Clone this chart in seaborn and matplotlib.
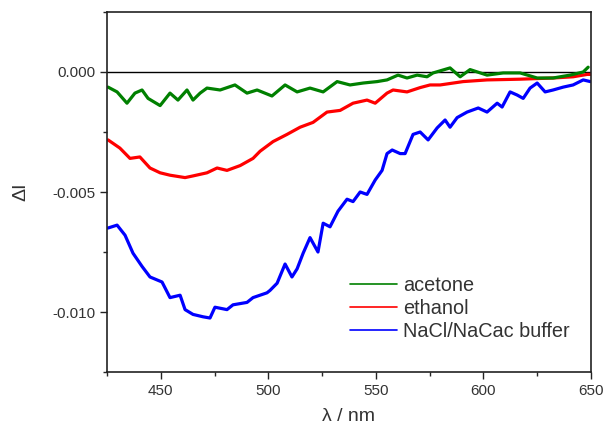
import numpy as np
import pandas as pd
import matplotlib
matplotlib.use("Agg")
import matplotlib.pyplot as plt
import seaborn as sns
from matplotlib.ticker import MultipleLocator

# values
buffer_nm = [425.5, 429.7, 433.4, 437.1, 441.3, 445.0, 450.6, 454.3, 459.0, 461.3,
             465.0, 469.7, 472.9, 475.2, 480.8, 483.6, 490.1, 492.9, 499.4, 500.8,
             504.1, 507.8, 511.0, 513.4, 516.2, 519.4, 523.1, 525.5, 528.7, 532.4,
             536.6, 539.4, 542.7, 545.9, 549.7, 552.9, 555.2, 557.6, 561.3, 563.6,
             567.3, 570.6, 574.3, 578.5, 582.2, 584.5, 587.8, 592.4, 597.6, 601.7,
             606.4, 608.7, 612.4, 615.7, 618.5, 621.7, 625.0, 628.7, 632.4, 637.1,
             641.7, 646.4, 649.7]
buffer_dI = [-0.0065, -0.00638, -0.0068, -0.00755, -0.0081, -0.00854, -0.00875, -0.0094, -0.0093, -0.0099,
             -0.0101, -0.0102, -0.01025, -0.0098, -0.0099, -0.0097, -0.0096, -0.0094, -0.0092, -0.0091,
             -0.0088, -0.0080, -0.00854, -0.0082, -0.00755, -0.0069, -0.0075, -0.0063, -0.00645, -0.0058,
             -0.0053, -0.0054, -0.0050, -0.0051, -0.0045, -0.0041, -0.0034, -0.00325, -0.0034, -0.0034,
             -0.0026, -0.0025, -0.00283, -0.00233, -0.0020, -0.0023, -0.0019, -0.00167, -0.0015, -0.00167,
             -0.0013, -0.00146, -0.00083, -0.00096, -0.0011, -0.00067, -0.00046, -0.00083, -0.00075, -0.00063,
             -0.00054, -0.00033, -0.0004]

ethanol_nm = [425.5, 431.0, 435.7, 440.3, 445.0, 449.7, 454.3, 461.3, 465.0, 471.5,
              476.2, 480.8, 486.9, 492.9, 496.2, 502.2, 508.7, 514.8, 520.8, 527.3,
              533.4, 539.4, 545.9, 549.7, 555.2, 558.0, 564.5, 570.6, 575.2, 579.9,
              590.6, 601.7, 617.1, 632.4, 641.7, 648.3, 650.0]
ethanol_dI = [-0.00283, -0.00317, -0.0036, -0.00354, -0.0040, -0.0042, -0.0043, -0.0044, -0.00433, -0.0042,
              -0.0040, -0.0041, -0.0039, -0.0036, -0.0033, -0.0029, -0.0026, -0.0023, -0.0021, -0.00167,
              -0.0016, -0.0013, -0.00117, -0.0013, -0.00088, -0.00075, -0.00083, -0.00065, -0.00054, -0.00054,
              -0.0004, -0.00033, -0.0003, -0.00025, -0.0002, -0.0001, -0.0001]

acetone_nm = [425.5, 429.7, 434.3, 438.0, 441.3, 444.1, 449.7, 454.3, 458.0, 462.2,
              465.0, 468.3, 471.5, 477.6, 484.5, 490.1, 494.8, 501.7, 507.8, 513.4,
              519.4, 525.5, 532.0, 538.0, 544.1, 550.6, 555.2, 560.3, 564.5, 569.2,
              573.8, 576.6, 584.5, 589.2, 593.8, 601.7, 609.2, 617.1, 625.0, 632.4,
              640.3, 646.4, 648.7]
acetone_dI = [-0.00063, -0.00083, -0.0013, -0.00088, -0.00075, -0.0011, -0.0014, -0.00088, -0.00117, -0.00075,
              -0.00117, -0.00088, -0.00067, -0.00075, -0.00054, -0.00088, -0.00075, -0.001, -0.00054, -0.00083,
              -0.00067, -0.00083, -0.0004, -0.00054, -0.00046, -0.0004, -0.00033, -0.00013, -0.00025, -0.00013,
              -0.0002, -0.00004, 0.00017, -0.0002, 0.0001, -0.00013, -0.00004, -0.00004, -0.00025, -0.00025,
              -0.00013, 0.0, 0.0002]

sns.set_style("ticks")
plt.rcParams['font.family'] = ['Liberation Sans', 'DejaVu Sans']
txt = '#333333'

fig = plt.figure(figsize=(6.03, 4.28), dpi=100)
ax = fig.add_axes([0.1774, 0.1308, 0.8026, 0.8412])

ax.axhline(0, color='black', lw=1.0, zorder=1)
sns.lineplot(x=buffer_nm, y=buffer_dI, color='#0000ff', lw=2.3, ax=ax, label='NaCl/NaCac buffer')
sns.lineplot(x=ethanol_nm, y=ethanol_dI, color='#ff0000', lw=2.3, ax=ax, label='ethanol')
sns.lineplot(x=acetone_nm, y=acetone_dI, color='#008000', lw=2.3, ax=ax, label='acetone')

ax.set_xlim(425, 650)
ax.set_ylim(-0.0125, 0.0025)
ax.xaxis.set_major_locator(MultipleLocator(50))
ax.xaxis.set_minor_locator(MultipleLocator(25))
ax.yaxis.set_major_locator(MultipleLocator(0.005))
ax.yaxis.set_minor_locator(MultipleLocator(0.0025))
ax.yaxis.set_major_formatter(matplotlib.ticker.FormatStrFormatter('%.3f'))
ax.tick_params(which='major', length=5, width=1, labelsize=11, colors='#222222', labelcolor=txt)
ax.tick_params(which='minor', length=3, width=1)
for s in ax.spines.values():
    s.set_linewidth(1.2)
    s.set_color('#222222')

ax.set_xlabel('λ / nm', fontsize=14, color=txt, labelpad=7)
ax.set_ylabel('ΔI', fontsize=14, color=txt, labelpad=16)

h, l = ax.get_legend_handles_labels()
leg = ax.legend(h[::-1], l[::-1], loc='upper left', bbox_to_anchor=(0.502, 0.266),
                frameon=False, fontsize=14.3, handlelength=2.36, handletextpad=0.3,
                labelspacing=0.2, borderpad=0, borderaxespad=0)
for t in leg.get_texts():
    t.set_color(txt)
for line in leg.get_lines():
    line.set_linewidth(1.2)

fig.savefig('out.png', dpi=100)
